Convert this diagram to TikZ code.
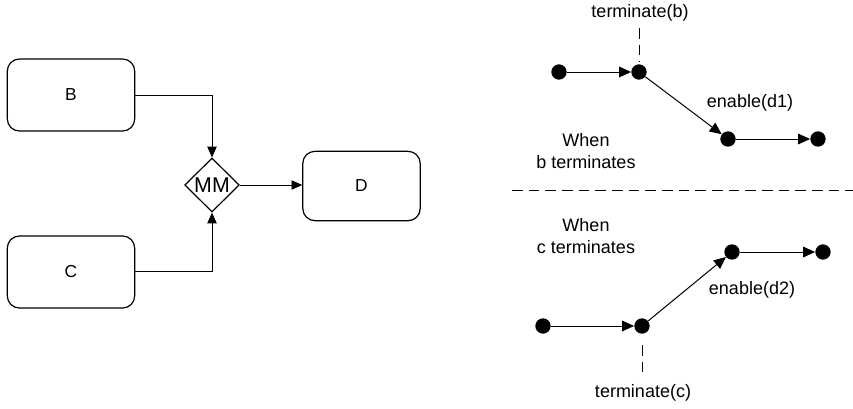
\documentclass[tikz,border=0pt]{standalone}
\usepackage{fontspec}
\setmainfont{Liberation Sans}
\usetikzlibrary{shapes.geometric,arrows.meta}
\begin{document}
\begin{tikzpicture}[x=0.75pt,y=-0.75pt,
  box/.style={draw,line width=0.9pt,rounded corners=9pt,minimum width=95.5pt,minimum height=54pt,inner sep=0pt,font=\fontsize{13}{15}\selectfont},
  gate/.style={draw,line width=0.9pt,diamond,minimum width=41pt,minimum height=40.5pt,inner sep=0pt,font=\fontsize{16}{18}\selectfont},
  dot/.style={circle,fill=black,minimum size=11.5pt,inner sep=0pt},
  lbl/.style={font=\fontsize{13.5}{16}\selectfont,inner sep=0pt},
  flow/.style={line width=0.75pt,-{Triangle[length=9pt,width=8pt]}},
  conn/.style={line width=0.6pt,-{Triangle[length=8pt,width=7pt]}},
  dsh/.style={line width=0.75pt,dash pattern=on 8pt off 4.5pt}]
\useasboundingbox (0,0) rectangle (853,408);
% left diagram
\node[box] (B) at (71,95) {B};
\node[box] (C) at (71,272) {C};
\node[gate] (M) at (212,185) {MM};
\node[box,minimum width=88pt,minimum height=52pt] (D) at (361.5,186) {D};
\draw[conn] (B.east |- 0,95) -| (M.north);
\draw[conn] (C.east |- 0,271) -| (M.south);
\draw[conn] (M.east) -- (D.west |- M.east);
% upper right
\node[dot] (a1) at (559,72) {};
\node[dot] (a2) at (639,72) {};
\node[dot] (a3) at (728,139) {};
\node[dot] (a4) at (818,139) {};
\draw[flow] (a1) -- (a2);
\draw[flow] (a2) -- (a3);
\draw[flow] (a3) -- (a4);
\node[lbl] (tb) at (640,13) {terminate(b)};
\coordinate (tbe) at (639,62);
\draw[dsh] (639,28) -- (tbe);
\node[lbl] (e1) at (750,103) {enable(d1)};
\node[lbl,align=center] (wb) at (586,151) {When\\b terminates};
% separator
\coordinate (s1) at (512,190);
\coordinate (s2) at (853,190);
\draw[dsh] (s1) -- (s2);
% lower right
\node[lbl,align=center] (wc) at (586,236) {When\\c terminates};
\node[dot] (c1) at (543,326) {};
\node[dot] (c2) at (642,326) {};
\node[dot] (c3) at (732,252) {};
\node[dot] (c4) at (823,252) {};
\draw[flow] (c1) -- (c2);
\draw[flow] (c2) -- (c3);
\draw[flow] (c3) -- (c4);
\node[lbl] (e2) at (752,290) {enable(d2)};
\coordinate (tce) at (642,345);
\draw[dsh] (tce) -- (642,377);
\node[lbl] (tc) at (643,393) {terminate(c)};
\end{tikzpicture}
\end{document}
